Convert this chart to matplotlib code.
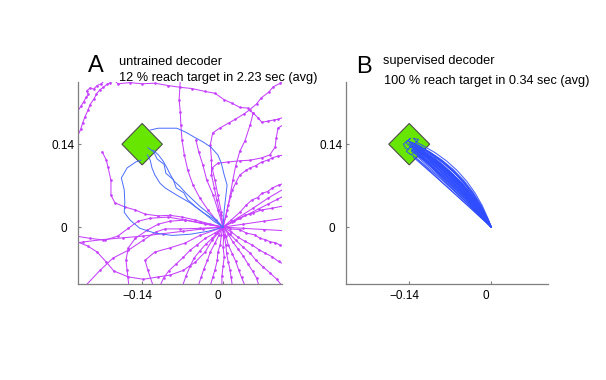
import matplotlib
matplotlib.use('Agg')
import matplotlib.pyplot as plt
import matplotlib.transforms as mtransforms
from matplotlib.path import Path
from matplotlib.patches import PathPatch, Polygon

plt.rcParams['font.family'] = ['Liberation Sans', 'DejaVu Sans']

# ---------------- data ----------------
target_center = (-0.14, 0.14)
target_half = 0.035
x_ticks = [-0.14, 0.0]
x_ticklabels = ['\u22120.14', '0']
y_ticks = [0.0, 0.14]
y_ticklabels = ['0', '0.14']

title_a = ['untrained decoder', '12 % reach target in 2.23 sec (avg)']
title_b = ['supervised decoder', '100 % reach target in 0.34 sec (avg)']

# Panel A: magenta (unsuccessful) trajectories
m01_x = [-0.252, -0.246, -0.243, -0.239, -0.234, -0.230, -0.223, -0.219, -0.213, -0.207, -0.201, -0.195, -0.188]
m01_y = [0.153, 0.166, 0.176, 0.186, 0.197, 0.207, 0.217, 0.225, 0.232, 0.236, 0.241, 0.244, 0.248]
m02_x = [-0.252, -0.246, -0.241, -0.237, -0.233, -0.236, -0.230, -0.224, -0.218, -0.211, -0.204]
m02_y = [0.195, 0.204, 0.212, 0.219, 0.224, 0.230, 0.235, 0.233, 0.239, 0.242, 0.248]
m03_x = [0, 0.007, 0.012, 0.017, 0.022, 0.029, 0.038, 0.047, 0.052, 0.043, 0.029, 0.016, 0.002, -0.014,
         -0.031, -0.054, -0.074, -0.095, -0.118, -0.140, -0.161, -0.182, -0.190]
m03_y = [0, 0.029, 0.052, 0.080, 0.104, 0.128, 0.146, 0.173, 0.192, 0.201, 0.202, 0.209, 0.215, 0.226,
         0.229, 0.234, 0.236, 0.239, 0.243, 0.242, 0.244, 0.242, 0.250]
m04_x = [0, -0.004, -0.011, -0.015, -0.020, -0.020, -0.022, -0.018, -0.006, 0.010, 0.021, 0.036, 0.046,
         0.058, 0.066, 0.079, 0.087, 0.099, 0.106]
m04_y = [0, 0.020, 0.046, 0.066, 0.088, 0.113, 0.139, 0.159, 0.167, 0.176, 0.182, 0.191, 0.198, 0.208,
         0.218, 0.228, 0.237, 0.243, 0.248]
m05_x = [0.052, 0.061, 0.067, 0.078, 0.088, 0.095, 0.106]
m05_y = [0.193, 0.184, 0.177, 0.179, 0.181, 0.182, 0.186]
m06_x = [0.106, 0.095, 0.092, 0.090, 0.081, 0.067, 0.047, 0.029, 0.009, -0.009, -0.019, -0.014, -0.009, -0.003, 0]
m06_y = [0.174, 0.167, 0.150, 0.135, 0.122, 0.117, 0.113, 0.112, 0.110, 0.108, 0.100, 0.079, 0.054, 0.025, 0]
m07_x = [-0.074, -0.076, -0.074, -0.073, -0.071, -0.067, -0.061, -0.052, -0.040, -0.026, -0.012, 0]
m07_y = [0.250, 0.215, 0.194, 0.172, 0.147, 0.122, 0.096, 0.071, 0.049, 0.029, 0.012, 0]
m08_x = [-0.209, -0.202, -0.199, -0.194, -0.194, -0.187, -0.170, -0.152, -0.135, -0.112, -0.092, -0.071, -0.048, -0.022, 0]
m08_y = [0.127, 0.113, 0.101, 0.079, 0.054, 0.041, 0.034, 0.029, 0.022, 0.019, 0.020, 0.017, 0.012, 0.005, 0]
m09_x = [0, -0.009, -0.017, -0.028, -0.035, -0.042, -0.047]
m09_y = [0, 0.029, 0.054, 0.079, 0.105, 0.127, 0.147]
m10_x = [0, 0.015, 0.030, 0.046, 0.062, 0.078, 0.094, 0.106]
m10_y = [0, 0.008, 0.015, 0.023, 0.031, 0.039, 0.047, 0.053]
m11_x = [0, 0.026, 0.052, 0.078, 0.106]
m11_y = [0, 0.016, 0.032, 0.049, 0.065]
m12_x = [0, 0.019, 0.038, 0.052, 0.067, 0.085, 0.106]
m12_y = [0, 0.010, 0.020, 0.024, 0.029, 0.032, 0.036]
m13_x = [0, 0.014, 0.029, 0.040, 0.050, 0.060, 0.067, 0.077, 0.085, 0.096, 0.106]
m13_y = [0, 0.012, 0.025, 0.037, 0.046, 0.050, 0.057, 0.060, 0.066, 0.071, 0.074]
m14_x = [0, 0.012, 0.029, 0.040, 0.055, 0.064, 0.073, 0.082, 0.090, 0.098, 0.106]
m14_y = [0, -0.003, -0.004, -0.010, -0.013, -0.019, -0.021, -0.025, -0.026, -0.030, -0.032]
m15_x = [0, 0.014, 0.026, 0.038, 0.050, 0.062, 0.073, 0.085, 0.096, 0.106]
m15_y = [0, -0.008, -0.017, -0.024, -0.030, -0.038, -0.044, -0.050, -0.058, -0.063]
m16_x = [0, 0.012, 0.022, 0.035, 0.047, 0.057, 0.069, 0.081, 0.093, 0.102]
m16_y = [0, -0.012, -0.022, -0.034, -0.044, -0.056, -0.067, -0.077, -0.088, -0.099]
m17_x = [0, 0.035, 0.070, 0.106]
m17_y = [0, -0.002, -0.004, -0.006]
m18_x = [0, 0.009, 0.017, 0.026, 0.035, 0.043, 0.051, 0.058, 0.062]
m18_y = [0, -0.012, -0.025, -0.037, -0.049, -0.062, -0.074, -0.086, -0.099]
m19_x = [0, 0.035, 0.070, 0.106]
m19_y = [0, 0.005, 0.010, 0.015]
m20_x = [0, 0.002, 0.005, 0.006, 0.009, 0.012, 0.014, 0.016]
m20_y = [0, -0.014, -0.030, -0.044, -0.059, -0.072, -0.085, -0.099]
m21_x = [0, -0.003, -0.005, -0.009, -0.010, -0.014, -0.018, -0.022]
m21_y = [0, -0.014, -0.030, -0.042, -0.056, -0.072, -0.085, -0.099]
m22_x = [0, -0.007, -0.014, -0.022, -0.027, -0.033, -0.038, -0.043]
m22_y = [0, -0.013, -0.027, -0.042, -0.056, -0.070, -0.085, -0.099]
m23_x = [0, 0.001, 0.000, 0.002, 0.000, -0.002, -0.002]
m23_y = [0, -0.017, -0.034, -0.050, -0.066, -0.083, -0.099]
m24_x = [0, -0.010, -0.019, -0.030, -0.040, -0.050, -0.057, -0.064, -0.070]
m24_y = [0, -0.010, -0.019, -0.029, -0.040, -0.052, -0.066, -0.082, -0.099]
m25_x = [0, -0.014, -0.031, -0.045, -0.057, -0.069, -0.081, -0.094, -0.103, -0.109]
m25_y = [0, -0.010, -0.019, -0.030, -0.039, -0.051, -0.062, -0.074, -0.086, -0.099]
m26_x = [0, 0.005, 0.009, 0.016, 0.022, 0.027, 0.032, 0.038]
m26_y = [0, -0.015, -0.030, -0.045, -0.058, -0.072, -0.085, -0.099]
m27_x = [0, -0.035, -0.069, -0.104, -0.138, -0.173, -0.208, -0.242, -0.255]
m27_y = [0, -0.003, -0.007, -0.011, -0.015, -0.018, -0.021, -0.025, -0.027]
m28_x = [0, -0.040, -0.074, -0.100, -0.116, -0.138, -0.164, -0.190, -0.213, -0.237, -0.242]
m28_y = [0, -0.002, -0.003, -0.003, -0.008, -0.022, -0.039, -0.052, -0.073, -0.098, -0.102]
m29_x = [0, -0.031, -0.066, -0.095, -0.126, -0.147, -0.164, -0.182, -0.204, -0.230, -0.255]
m29_y = [0, 0.005, 0.012, 0.017, 0.015, 0.010, -0.002, -0.015, -0.022, -0.019, -0.015]
m30_x = [0, -0.019, -0.031, -0.048, -0.069, -0.092, -0.112, -0.138, -0.164, -0.189, -0.202, -0.218, -0.234, -0.254]
m30_y = [0, -0.022, -0.042, -0.059, -0.073, -0.081, -0.084, -0.088, -0.084, -0.074, -0.059, -0.042, -0.032, -0.024]
m31_x = [0, -0.040, -0.066, -0.092, -0.112, -0.131, -0.152, -0.164, -0.168, -0.166, -0.163]
m31_y = [0, 0.008, 0.012, 0.010, 0.005, -0.005, -0.019, -0.035, -0.056, -0.073, -0.099]
m32_x = [0, -0.040, -0.066, -0.092, -0.118, -0.135, -0.130, -0.121]
m32_y = [0, -0.014, -0.027, -0.035, -0.042, -0.056, -0.073, -0.099]
m33_x = [0, 0.005, 0.009, 0.016, 0.022, 0.029, 0.040, 0.047, 0.057, 0.067, 0.077, 0.085, 0.095, 0.106]
m33_y = [0, 0.019, 0.037, 0.062, 0.075, 0.088, 0.096, 0.100, 0.104, 0.110, 0.113, 0.117, 0.120, 0.122]

magenta_paths = [(m01_x, m01_y), (m02_x, m02_y), (m03_x, m03_y), (m04_x, m04_y), (m05_x, m05_y),
                 (m06_x, m06_y), (m07_x, m07_y), (m08_x, m08_y), (m09_x, m09_y), (m10_x, m10_y),
                 (m11_x, m11_y), (m12_x, m12_y), (m13_x, m13_y), (m14_x, m14_y), (m15_x, m15_y),
                 (m16_x, m16_y), (m17_x, m17_y), (m18_x, m18_y), (m19_x, m19_y), (m20_x, m20_y),
                 (m21_x, m21_y), (m22_x, m22_y), (m23_x, m23_y), (m24_x, m24_y), (m25_x, m25_y),
                 (m26_x, m26_y), (m27_x, m27_y), (m28_x, m28_y), (m29_x, m29_y), (m30_x, m30_y),
                 (m31_x, m31_y), (m32_x, m32_y), (m33_x, m33_y)]

# Panel A: blue (successful) trajectories
b1_x = [0, -0.016, -0.031, -0.047, -0.061, -0.068, -0.081, -0.086, -0.099, -0.102, -0.114, -0.120, -0.130]
b1_y = [0, 0.010, 0.022, 0.034, 0.046, 0.058, 0.066, 0.080, 0.091, 0.106, 0.115, 0.127, 0.134]
b2_x = [0, -0.026, -0.057, -0.088, -0.118, -0.144, -0.161, -0.171, -0.170, -0.171, -0.176, -0.166, -0.151, -0.142]
b2_y = [0, -0.007, -0.012, -0.014, -0.010, -0.002, 0.012, 0.025, 0.042, 0.063, 0.083, 0.100, 0.110, 0.113]
b3_x = [0, 0.002, 0.005, 0.007, 0.002, -0.003, -0.009, -0.021, -0.035, -0.050, -0.064, -0.080, -0.099, -0.112, -0.126]
b3_y = [0, 0.029, 0.054, 0.071, 0.088, 0.108, 0.122, 0.135, 0.144, 0.152, 0.160, 0.167, 0.167, 0.167, 0.164]
b4_x = [0, -0.017, -0.035, -0.057, -0.080, -0.100, -0.109, -0.118, -0.123, -0.126, -0.131]
b4_y = [0, 0.014, 0.025, 0.041, 0.054, 0.066, 0.074, 0.088, 0.100, 0.113, 0.122]
b5_x = [0, -0.012, -0.026, -0.040, -0.052, -0.064, -0.074, -0.085, -0.092, -0.097, -0.104, -0.112, -0.121]
b5_y = [0, 0.012, 0.024, 0.035, 0.046, 0.057, 0.068, 0.078, 0.090, 0.100, 0.112, 0.122, 0.130]
blue_paths_a = [(b1_x, b1_y), (b2_x, b2_y), (b3_x, b3_y), (b4_x, b4_y), (b5_x, b5_y)]

# Panel B: supervised reaches (end point + curve control point)
sup_end_x = [-0.135, -0.128, -0.140, -0.132, -0.125, -0.138, -0.130, -0.120, -0.143, -0.134, -0.127, -0.136, -0.131, -0.124,
             -0.139, -0.129, -0.133, -0.126, -0.118, -0.137, -0.130, -0.135, -0.122, -0.141, -0.128, -0.133, -0.131, -0.126,
             -0.132, -0.127, -0.136, -0.124, -0.140, -0.129, -0.121, -0.134, -0.138, -0.126, -0.131, -0.136]
sup_end_y = [0.140, 0.132, 0.145, 0.128, 0.124, 0.136, 0.141, 0.120, 0.146, 0.133, 0.128, 0.143, 0.125, 0.130,
             0.139, 0.137, 0.118, 0.135, 0.126, 0.131, 0.144, 0.122, 0.133, 0.141, 0.116, 0.136, 0.129, 0.139,
             0.134, 0.126, 0.138, 0.122, 0.137, 0.131, 0.128, 0.127, 0.142, 0.119, 0.136, 0.129]
sup_ctrl_x = [-0.046, -0.057, -0.042, -0.052, -0.063, -0.044, -0.047, -0.056, -0.040, -0.056, -0.044, -0.041, -0.060, -0.049,
              -0.047, -0.049, -0.065, -0.045, -0.050, -0.043, -0.035, -0.063, -0.050, -0.046, -0.064, -0.050, -0.056, -0.042,
              -0.052, -0.056, -0.048, -0.059, -0.054, -0.042, -0.054, -0.056, -0.042, -0.061, -0.053, -0.060]
sup_ctrl_y = [0.091, 0.073, 0.101, 0.078, 0.062, 0.093, 0.088, 0.064, 0.104, 0.077, 0.084, 0.098, 0.068, 0.078,
              0.092, 0.084, 0.060, 0.086, 0.072, 0.091, 0.102, 0.065, 0.078, 0.094, 0.058, 0.085, 0.075, 0.091,
              0.081, 0.070, 0.089, 0.064, 0.084, 0.088, 0.070, 0.074, 0.098, 0.062, 0.081, 0.073]
# small corrective wiggles inside the target
s1_x = [-0.135, -0.142, -0.138, -0.146, -0.140]
s1_y = [0.140, 0.146, 0.150, 0.143, 0.138]
s2_x = [-0.128, -0.136, -0.131, -0.139]
s2_y = [0.132, 0.128, 0.137, 0.134]
s3_x = [-0.143, -0.150, -0.146, -0.141]
s3_y = [0.146, 0.140, 0.133, 0.131]
s4_x = [-0.130, -0.124, -0.133, -0.127]
s4_y = [0.141, 0.148, 0.150, 0.144]
s5_x = [-0.138, -0.145, -0.137, -0.132]
s5_y = [0.136, 0.128, 0.122, 0.126]
wiggles_b = [(s1_x, s1_y), (s2_x, s2_y), (s3_x, s3_y), (s4_x, s4_y), (s5_x, s5_y)]

# ---------------- style ----------------
MAGENTA = '#c640ff'
BLUE_A = '#4a6cff'
BLUE_B = '#2f4dff'
GREEN = '#66e600'
SPINE = '#7f7f7f'

W, H = 606, 380
fig = plt.figure(figsize=(W / 100, H / 100), dpi=100)
ax_a = fig.add_axes([78 / W, (H - 284) / H, 204 / W, 202 / H])
ax_b = fig.add_axes([346 / W, (H - 284) / H, 202 / W, 202 / H])
ax_a.set_xlim(-0.251, 0.102)
ax_b.set_xlim(-0.248, 0.097)
for ax in (ax_a, ax_b):
    ax.set_ylim(-0.096, 0.245)


def draw_target(ax):
    cx, cy = target_center
    h = target_half
    poly = Polygon([(cx - h, cy), (cx, cy + h), (cx + h, cy), (cx, cy - h)], closed=True,
                   facecolor=GREEN, edgecolor='#4d4d4d', linewidth=0.8, zorder=1)
    ax.add_patch(poly)


def style_axes(ax):
    for s in ('top', 'right'):
        ax.spines[s].set_visible(False)
    for s in ('left', 'bottom'):
        ax.spines[s].set_color(SPINE)
        ax.spines[s].set_linewidth(0.9)
    ax.set_xticks(x_ticks)
    ax.set_xticklabels(x_ticklabels)
    ax.set_yticks(y_ticks)
    ax.set_yticklabels(y_ticklabels)
    ax.tick_params(direction='in', length=2.5, width=0.8, color=SPINE, labelsize=8.5,
                   labelcolor='black')
    ax.tick_params(axis='x', pad=4)
    ax.tick_params(axis='y', pad=10.5)
    off = mtransforms.ScaledTranslation(-5 / 100, 0, fig.dpi_scale_trans)
    for lab in ax.get_xticklabels():
        lab.set_transform(lab.get_transform() + off)
    for lab in ax.get_yticklabels():
        lab.set_horizontalalignment('center')


# Panel A
draw_target(ax_a)
for xs, ys in magenta_paths:
    ax_a.plot(xs, ys, color=MAGENTA, lw=0.75, marker='o', ms=1.9, mew=0, zorder=2)
for xs, ys in blue_paths_a:
    ax_a.plot(xs, ys, color=BLUE_A, lw=0.7, zorder=3)
style_axes(ax_a)

# Panel B
draw_target(ax_b)
for ex, ey, cx, cy in zip(sup_end_x, sup_end_y, sup_ctrl_x, sup_ctrl_y):
    p = Path([(0.0, 0.0), (cx, cy), (ex, ey)], [Path.MOVETO, Path.CURVE3, Path.CURVE3])
    ax_b.add_patch(PathPatch(p, fill=False, edgecolor=BLUE_B, lw=0.75, alpha=0.9, zorder=3))
for xs, ys in wiggles_b:
    ax_b.plot(xs, ys, color=BLUE_B, lw=0.7, alpha=0.9, zorder=3)
style_axes(ax_b)

# Labels and titles
fig.text(88 / W, 1 - 72 / H, 'A', fontsize=17, va='baseline', ha='left')
fig.text(119 / W, 1 - 65 / H, title_a[0], fontsize=9.2, va='baseline', ha='left')
fig.text(119 / W, 1 - 81 / H, title_a[1], fontsize=9.2, va='baseline', ha='left')
fig.text(356 / W, 1 - 73 / H, 'B', fontsize=17, va='baseline', ha='left')
fig.text(383 / W, 1 - 64 / H, title_b[0], fontsize=9.2, va='baseline', ha='left')
fig.text(384 / W, 1 - 84 / H, title_b[1], fontsize=9.2, va='baseline', ha='left')

fig.savefig('out.png', dpi=100)
